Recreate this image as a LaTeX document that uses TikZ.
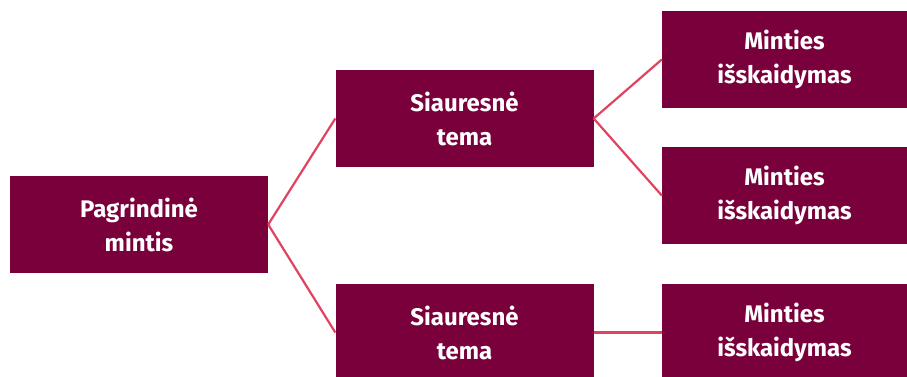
\documentclass[tikz,border=0pt]{standalone}
\usepackage{fontspec}
\setmainfont{Fira Sans}
\usepackage{tikz}
\usetikzlibrary{positioning}

\definecolor{vyšnia}{HTML}{7A003C}
\definecolor{linija}{HTML}{E0435F}

\tikzset{
    tema/.style={fill=vyšnia, text=white, align=center, inner sep=0pt,
        font=\fontsize{24}{34}\selectfont\bfseries,
        minimum width=258pt, minimum height=97pt},
    dalis/.style={tema, minimum width=245pt},
    jungtis/.style={draw=linija, line width=2.2pt}
}

\begin{document}
\begin{tikzpicture}[x=1pt, y=-1pt]
        \useasboundingbox (0,0) rectangle (907,376);
        \clip (0,0) rectangle (907,376);

        \node [tema] (pagr) at (139, 224.5) {Pagrindinė\\mintis};
        \node [tema] (siaur1) at (464.5, 118.5) {Siauresnė\\tema};
        \node [tema] (siaur2) at (464.5, 332.5) {Siauresnė\\tema};
        \node [dalis] (mint1) at (784.5, 59.5) {Minties\\išskaidymas};
        \node [dalis] (mint2) at (784.5, 195.5) {Minties\\išskaidymas};
        \node [dalis] (mint3) at (784.5, 332.5) {Minties\\išskaidymas};

        \draw [jungtis] (pagr.east) -- (siaur1.west);
        \draw [jungtis] (pagr.east) -- (siaur2.west);
        \draw [jungtis] (siaur1.east) -- (mint1.west);
        \draw [jungtis] (siaur1.east) -- (mint2.west);
        \draw [jungtis] (siaur2.east) -- (mint3.west);
    \end{tikzpicture}
\end{document}
